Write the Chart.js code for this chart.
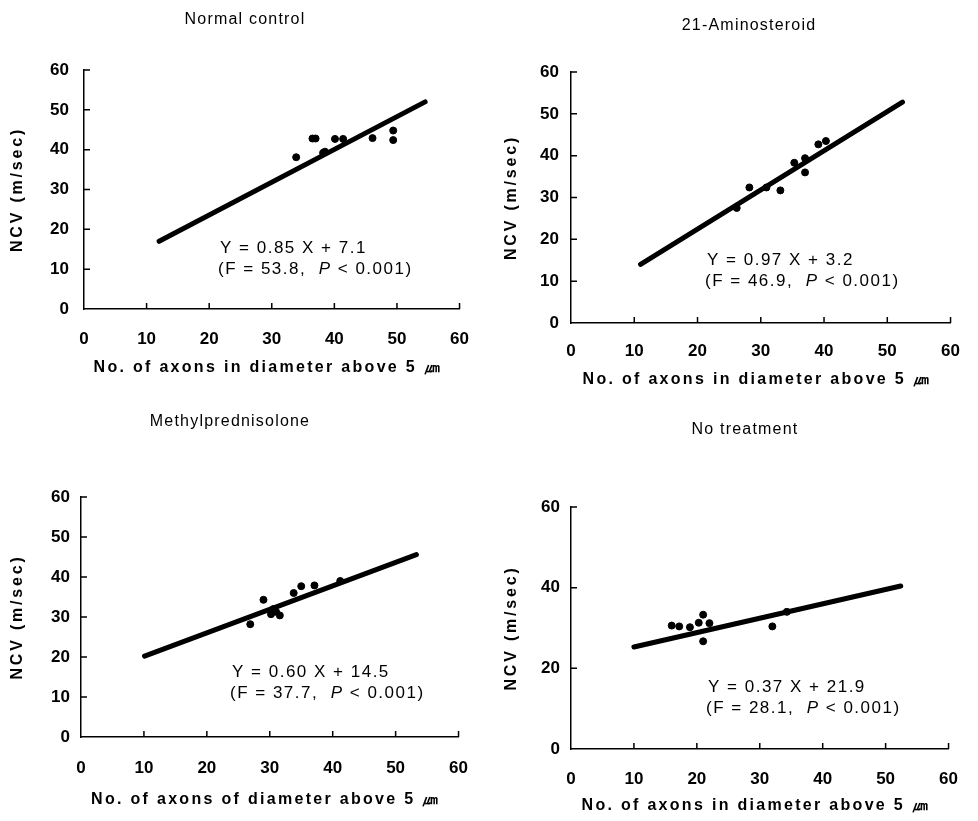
<!DOCTYPE html>
<html>
<head>
<meta charset="utf-8">
<script src="https://cdn.jsdelivr.net/npm/chart.js@4/dist/chart.umd.min.js"></script>
<style>
  body { margin: 0; background: #fff; }
  canvas { position: absolute; }
</style>
</head>
<body>
<canvas id="c1" width="489" height="410" style="left:0;top:0"></canvas>
<canvas id="c2" width="489" height="410" style="left:489px;top:0"></canvas>
<canvas id="c3" width="489" height="411" style="left:0;top:410px"></canvas>
<canvas id="c4" width="489" height="411" style="left:489px;top:410px"></canvas>
<script>
// values
const xTicks = [0, 10, 20, 30, 40, 50, 60];
const yTicksA = [0, 10, 20, 30, 40, 50, 60];
const yTicksB = [0, 20, 40, 60];

// Normal control
const normalX = [33.9, 36.5, 37.0, 38.2, 38.5, 40.1, 41.4, 46.1, 49.4, 49.4];
const normalY = [38.1, 42.8, 42.8, 39.2, 39.5, 42.7, 42.7, 42.9, 44.8, 42.4];
const normalFitX = [12, 54.5];
const normalFitY = [17, 52];

// 21-Aminosteroid
const aminoX = [26.2, 28.2, 30.9, 33.1, 35.3, 37.0, 37.0, 39.1, 40.3];
const aminoY = [27.5, 32.4, 32.4, 31.7, 38.3, 39.4, 36.0, 42.7, 43.5];
const aminoFitX = [11, 52.4];
const aminoFitY = [14, 52.8];

// Methylprednisolone
const methylX = [26.9, 29.0, 30.2, 30.6, 31.0, 31.6, 33.8, 35.0, 37.1, 41.2];
const methylY = [28.2, 34.3, 30.7, 32.0, 31.3, 30.4, 36.0, 37.7, 37.9, 39.0];
const methylFitX = [10.1, 53.3];
const methylFitY = [20.2, 45.6];

// No treatment
const noTreatX = [16.0, 17.2, 18.9, 20.3, 21.0, 22.0, 21.0, 32.0, 34.3];
const noTreatY = [30.6, 30.4, 30.2, 31.3, 33.3, 31.2, 26.7, 30.4, 34.0];
const noTreatFitX = [10, 52.4];
const noTreatFitY = [25.3, 40.4];

const FONT = '"Liberation Sans", Arial, sans-serif';

function pairs(xs, ys) {
  return xs.map((x, i) => ({ x: x, y: ys[i] }));
}

// short tick marks pointing into the plot, like the printed figure
const inwardTicks = {
  id: 'inwardTicks',
  afterDraw(chart) {
    const { ctx, chartArea } = chart;
    const xs = chart.scales.x, ys = chart.scales.y;
    ctx.save();
    ctx.strokeStyle = '#000';
    ctx.lineWidth = 1.5;
    ctx.beginPath();
    xs.ticks.forEach(t => {
      if (t.value === 0) return;
      const px = xs.getPixelForValue(t.value);
      ctx.moveTo(px, chartArea.bottom);
      ctx.lineTo(px, chartArea.bottom - 6);
    });
    ys.ticks.forEach(t => {
      if (t.value === 0) return;
      const py = ys.getPixelForValue(t.value);
      ctx.moveTo(chartArea.left, py);
      ctx.lineTo(chartArea.left + 6, py);
    });
    ctx.stroke();
    ctx.restore();
  }
};

// panel title, axis titles and regression text
const panelText = {
  id: 'panelText',
  afterDraw(chart, args, o) {
    const { ctx, chartArea } = chart;
    ctx.save();
    ctx.fillStyle = '#000';
    ctx.textBaseline = 'middle';

    ctx.font = '16px ' + FONT;
    ctx.letterSpacing = '1.2px';
    ctx.textAlign = 'center';
    ctx.fillText(o.title, o.titleX, o.titleY);

    ctx.font = 'bold 16px ' + FONT;
    ctx.letterSpacing = '2.3px';
    ctx.fillText(o.xTitle, (chartArea.left + chartArea.right) / 2 - 4, o.xTitleY);

    ctx.save();
    ctx.translate(o.yTitleX, (chartArea.top + chartArea.bottom) / 2);
    ctx.rotate(-Math.PI / 2);
    ctx.letterSpacing = '2.8px';
    ctx.fillText('NCV (m/sec)', 0, 0);
    ctx.restore();

    ctx.textAlign = 'left';
    ctx.letterSpacing = '1.5px';
    ctx.font = '17px ' + FONT;
    ctx.fillText(o.eq, o.eqX, o.eqY);
    let x = o.eqX - 2;
    const parts = [['(F = ' + o.F + ',  ', false], ['P', true], [' < 0.001)', false]];
    parts.forEach(([s, it]) => {
      ctx.font = (it ? 'italic ' : '') + '17px ' + FONT;
      ctx.fillText(s, x, o.eqY + 21);
      x += ctx.measureText(s).width;
    });
    ctx.restore();
  }
};

function makePanel(id, p) {
  new Chart(document.getElementById(id), {
    type: 'scatter',
    data: {
      datasets: [
        { data: pairs(p.px, p.py), backgroundColor: '#000', borderColor: '#000', pointRadius: 3.5, pointHoverRadius: 3.5 },
        { data: pairs(p.fx, p.fy), showLine: true, borderColor: '#000', borderWidth: 5, pointRadius: 0, borderCapStyle: 'round' }
      ]
    },
    options: {
      responsive: false,
      animation: false,
      events: [],
      layout: { padding: { left: 0, top: p.padT, right: p.padR, bottom: 0 } },
      scales: {
        x: {
          type: 'linear', min: 0, max: 60,
          afterBuildTicks: s => { s.ticks = xTicks.map(v => ({ value: v })); },
          afterFit: s => { s.height = p.xh; },
          grid: { display: false, drawTicks: false },
          border: { display: true, color: '#000', width: 1.5 },
          ticks: { color: '#000', padding: p.xPad, font: { family: FONT, size: 17, weight: 'bold' } }
        },
        y: {
          type: 'linear', min: 0, max: 60,
          afterBuildTicks: s => { s.ticks = p.yTicks.map(v => ({ value: v })); },
          afterFit: s => { s.width = p.yw; },
          grid: { display: false, drawTicks: false },
          border: { display: true, color: '#000', width: 1.5 },
          ticks: { color: '#000', padding: p.yPad, font: { family: FONT, size: 17, weight: 'bold' } }
        }
      },
      plugins: {
        legend: { display: false },
        tooltip: { enabled: false },
        panelText: p.text
      }
    },
    plugins: [inwardTicks, panelText]
  });
}

makePanel('c1', {
  px: normalX, py: normalY, fx: normalFitX, fy: normalFitY, yTicks: yTicksA,
  padT: 70, padR: 21, xh: 101, yw: 84, xPad: 20, yPad: 15,
  text: { title: 'Normal control', titleX: 245, titleY: 20, xTitle: 'No. of axons in diameter above 5 ㎛', xTitleY: 368,
          yTitleX: 18, eq: 'Y = 0.85 X + 7.1', F: '53.8', eqX: 220, eqY: 248 }
});

makePanel('c2', {
  px: aminoX, py: aminoY, fx: aminoFitX, fy: aminoFitY, yTicks: yTicksA,
  padT: 72, padR: 17, xh: 87, yw: 82, xPad: 18, yPad: 12,
  text: { title: '21-Aminosteroid', titleX: 260, titleY: 26, xTitle: 'No. of axons in diameter above 5 ㎛', xTitleY: 380,
          yTitleX: 23, eq: 'Y = 0.97 X + 3.2', F: '46.9', eqX: 218, eqY: 260 }
});

makePanel('c3', {
  px: methylX, py: methylY, fx: methylFitX, fy: methylFitY, yTicks: yTicksA,
  padT: 87, padR: 22, xh: 84, yw: 81, xPad: 21, yPad: 11,
  text: { title: 'Methylprednisolone', titleX: 230, titleY: 12, xTitle: 'No. of axons of diameter above 5 ㎛', xTitleY: 390,
          yTitleX: 18, eq: 'Y = 0.60 X + 14.5', F: '37.7', eqX: 232, eqY: 262 }
});

makePanel('c4', {
  px: noTreatX, py: noTreatY, fx: noTreatFitX, fy: noTreatFitY, yTicks: yTicksB,
  padT: 97, padR: 15, xh: 72, yw: 82, xPad: 20, yPad: 11,
  text: { title: 'No treatment', titleX: 256, titleY: 20, xTitle: 'No. of axons in diameter above 5 ㎛', xTitleY: 396,
          yTitleX: 23, eq: 'Y = 0.37 X + 21.9', F: '28.1', eqX: 219, eqY: 277 }
});
</script>
</body>
</html>
